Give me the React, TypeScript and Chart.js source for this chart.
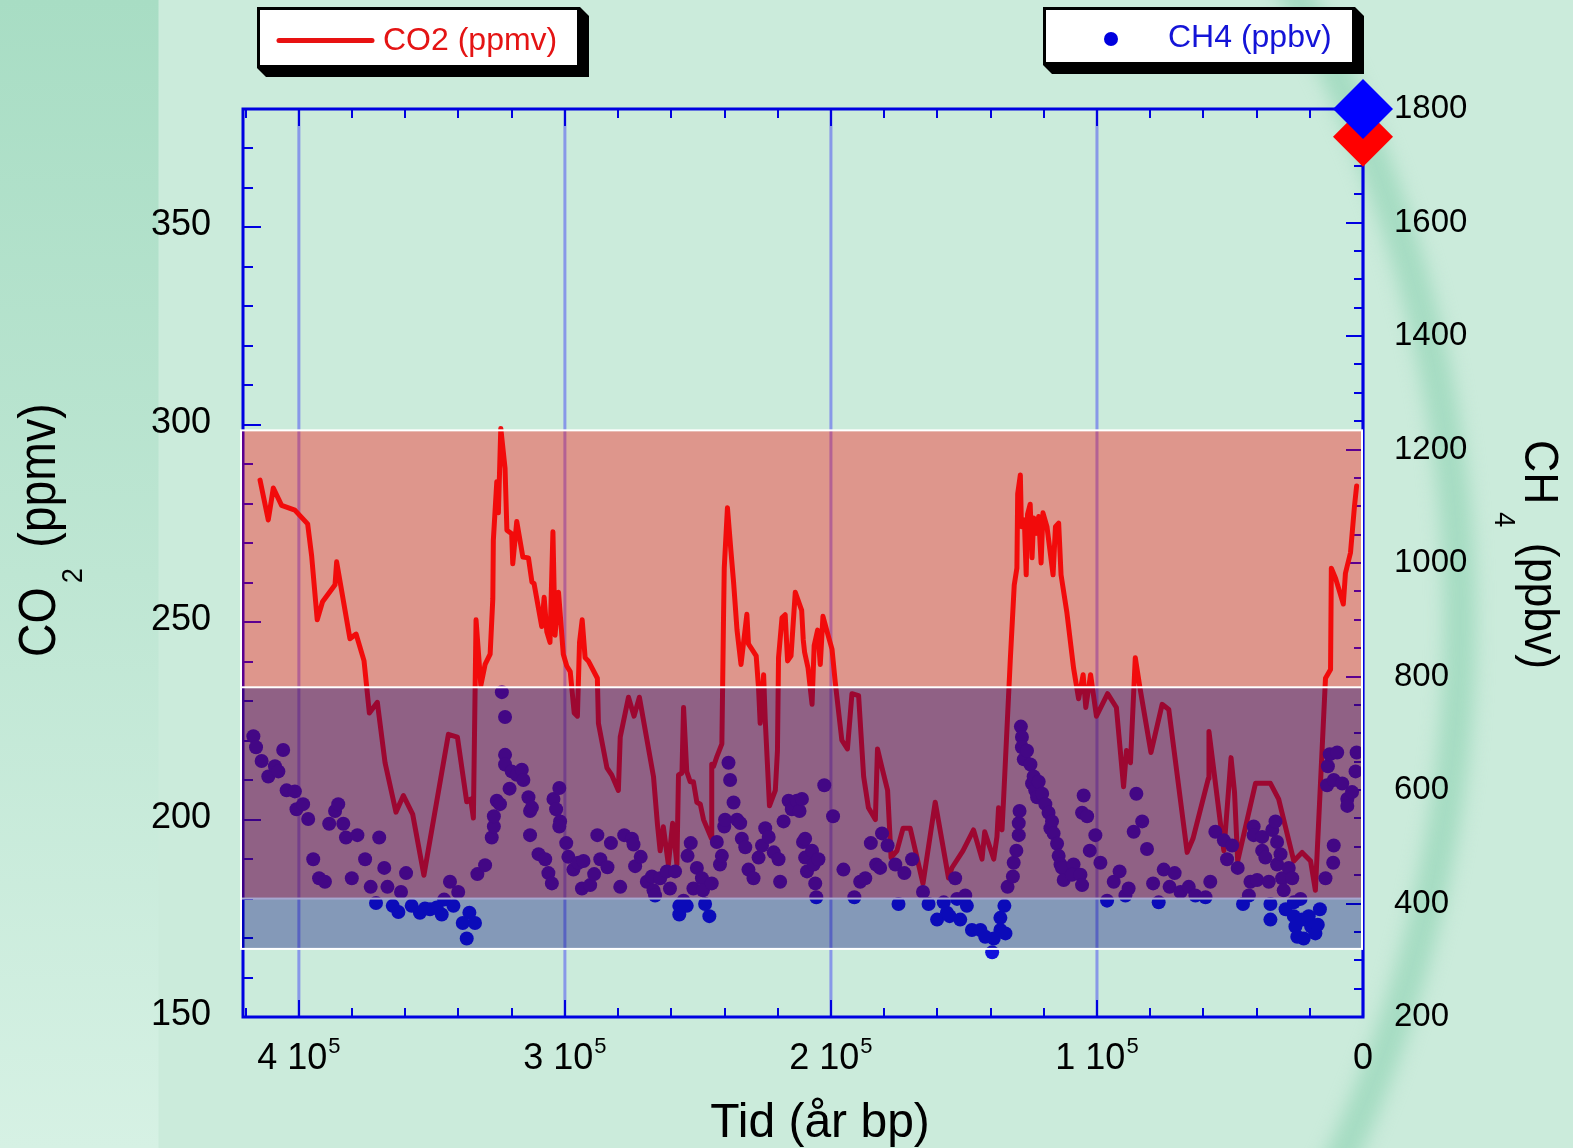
import React, { useEffect, useRef } from 'react';
import { Chart, registerables } from 'chart.js';

Chart.register(...registerables);

// ---------- data ----------
const co2Years = [
  414600, 411500, 409600, 406500, 401500, 399600, 396700, 395200, 393100, 391100,
  386400, 385800, 380800, 378500, 375500, 373500, 370500, 367600, 363500, 360700,
  357200, 353000, 343800, 340400, 336900, 335400, 334400, 333400, 331600, 330000,
  328100, 327100, 326900, 325600, 325000, 324100, 322500, 321800, 320000, 319600,
  318100, 315800, 313700, 312400, 311600, 308700, 307800, 306800, 305600, 304500,
  303700, 302400, 300600, 299300, 298000, 296500, 295300, 294500, 293500, 292400,
  291200, 287800, 287400, 284200, 282400, 279900, 279200, 276100, 274000, 272000,
  266700, 265200, 264200, 263000, 261100, 259500, 257900, 257300, 256000, 255400,
  254200, 252900, 251700, 250400, 249100, 247900, 244900, 244800, 244100, 242800,
  241000, 240400, 240100, 238900, 237600, 236600, 235300, 233800, 231600, 231000,
  228100, 227200, 226600, 225300, 224700, 223100, 220900, 220100, 219700, 218400,
  217200, 216300, 215000, 213400, 211000, 210400, 209900, 208600, 207100, 206300,
  205000, 204000, 203000, 200900, 199600, 198400, 195900, 193800, 192100, 189600,
  187700, 185900, 183300, 182500, 180800, 178700, 177400, 175200, 172900, 170200,
  165400, 160800, 155800, 154500, 150400, 146400, 143200, 142200, 138800, 137600,
  137000, 135700, 135100, 132600, 131100, 130100, 129800, 128800, 128400, 127300,
  126600, 126100, 125100, 124400, 123800, 122800, 121900, 121000, 120300, 118800,
  116500, 115600, 114400, 113500, 111300, 108800, 106900, 105200, 104200, 102400,
  100200, 96000, 92700, 90000, 88900, 87400, 85600, 83900, 79700, 75500,
  73000, 66100, 63900, 58100, 57900, 52300, 49600, 48300, 47100, 40400,
  34800, 31700, 26000, 22900, 19700, 17900, 14100, 12200, 11900, 10300,
  7400, 6600, 4700, 3200, 2400,
];
const co2Values = [
  286.0, 275.9, 284.0, 279.6, 278.4, 277.0, 274.9, 266.8, 250.6, 255.2,
  259.5, 265.3, 245.8, 247.0, 240.2, 227.0, 229.7, 214.4, 201.9, 206.1,
  201.3, 185.9, 221.6, 220.9, 204.5, 205.2, 200.4, 250.6, 234.0, 239.3,
  241.9, 255.9, 270.7, 285.6, 277.7, 299.1, 289.0, 273.3, 272.4, 264.8,
  275.5, 266.5, 266.3, 260.2, 259.8, 248.9, 256.3, 247.6, 244.9, 272.9,
  246.7, 257.6, 241.9, 238.9, 237.5, 227.0, 226.2, 244.9, 250.6, 241.0,
  240.2, 235.8, 224.4, 213.1, 211.3, 207.4, 220.9, 231.0, 226.2, 231.0,
  210.9, 198.7, 192.1, 198.2, 188.6, 199.1, 188.6, 211.3, 211.8, 228.4,
  212.2, 209.6, 209.6, 204.4, 203.9, 200.0, 195.2, 214.0, 213.5, 216.1,
  219.2, 249.8, 263.7, 279.0, 268.1, 260.2, 248.0, 239.3, 252.0, 244.5,
  241.5, 233.2, 224.4, 236.7, 225.3, 203.5, 207.4, 217.5, 241.0, 251.1,
  251.9, 240.2, 241.5, 257.6, 253.0, 245.5, 242.4, 238.4, 229.2, 244.1,
  248.0, 239.3, 251.5, 246.3, 243.2, 234.9, 220.1, 217.9, 231.9, 231.4,
  210.9, 203.0, 200.0, 217.9, 213.1, 207.4, 190.4, 192.1, 197.8, 197.8,
  183.8, 204.4, 185.2, 187.8, 192.1, 197.4, 190.0, 196.9, 190.0, 195.6,
  203.0, 197.4, 205.2, 240.2, 259.4, 263.7, 282.5, 287.3, 274.2, 275.9,
  262.0, 277.3, 279.9, 266.3, 276.4, 272.5, 276.8, 265.0, 277.7, 274.2,
  262.0, 274.2, 275.1, 262.0, 252.4, 238.4, 230.6, 236.7, 228.4, 236.7,
  226.2, 231.9, 228.4, 208.3, 217.5, 214.4, 241.0, 233.6, 217.0, 229.2,
  227.9, 191.7, 195.2, 210.5, 222.3, 192.1, 215.7, 207.0, 189.5, 209.2,
  209.2, 205.2, 189.5, 191.7, 189.5, 182.1, 235.8, 238.0, 263.7, 261.1,
  254.6, 262.4, 267.6, 279.4, 284.5,
];

const ch4Years = [
  417100, 416100, 414000, 411500, 409000, 407700, 405900, 404600, 401500, 400900,
  398400, 396500, 394600, 392400, 390200, 388600, 386400, 385200, 383300, 382300,
  380100, 378000, 375100, 373000, 371000, 369800, 367900, 366700, 364700, 362600,
  361600, 359700, 357600, 354500, 352600, 350700, 348200, 346300, 345400, 343200,
  341900, 340100, 338400, 336900, 335900, 333800, 332900, 330000, 327500, 326700,
  326700, 325600, 324400, 323700, 322500, 322500, 322500, 320800, 320000, 318100,
  316200, 315600, 313700, 313100, 313100, 312400, 309900, 307400, 306200, 304900,
  304300, 303300, 302100, 301800, 302100, 299500, 298700, 296800, 294900, 293000,
  293600, 290500, 289000, 287800, 286700, 284000, 282700, 279200, 277700, 274800,
  274200, 273600, 271500, 269200, 267300, 266700, 266100, 264200, 261700, 260500,
  258600, 257000, 257000, 255400, 254200, 253900, 252700, 251700, 250400, 248500,
  248100, 247300, 245700, 244800, 242900, 241700, 241000, 240100, 239800, 238500,
  237900, 236600, 235300, 234100, 233500, 232200, 231000, 229100, 227200, 225900,
  224700, 223400, 221500, 219700, 219100, 217800, 215900, 214700, 212800, 211800,
  210500, 209700, 209000, 210900, 209700, 207100, 206500, 204700, 205900, 205500,
  202500, 199200, 195300, 191200, 189000, 187100, 185000, 183000, 181500, 180800,
  178700, 175800, 174600, 172400, 169500, 165400, 163300, 160100, 157600, 156400,
  155400, 153300, 152600, 151400, 149500, 148900, 147000, 143800, 142000, 139400,
  138800, 136300, 136300, 134800, 134400, 133600, 131600, 131300, 130300, 129400,
  129400, 129100, 128600, 128200, 128200, 127500, 126300, 125000, 124400, 123800,
  123200, 122500, 121900, 120600, 119400, 118200, 117500, 116900, 116300, 115000,
  114400, 113700, 113100, 112500, 108800, 109400, 106200, 105600, 105000, 105600,
  102700, 103700, 100600, 98700, 96200, 93700, 91500, 89300, 88100, 85200,
  86200, 83000, 81200, 78900, 76800, 74900, 72700, 70800, 68600, 65500,
  63000, 59200, 57400, 55500, 52300, 49200, 51100, 47100, 45100, 42900,
  42300, 41100, 41100, 39800, 37900, 37900, 36700, 35400, 34800, 34800,
  34100, 32900, 32300, 32300, 31000, 30400, 29800, 29100, 27900, 26600,
  26000, 26000, 25400, 24700, 23500, 22900, 22300, 20400, 19500, 17900,
  17000, 16200, 14100, 13200, 12500, 9700, 11000, 11200, 13500, 11000,
  7800, 5900, 5900, 4100, 2800, 2400,
];
const ch4Values = [
  694.7, 675.3, 651.0, 623.7, 641.9, 632.8, 670.4, 599.4, 597.5, 566.0,
  575.1, 549.0, 477.9, 444.5, 438.4, 540.5, 562.9, 575.1, 540.5, 516.2,
  444.5, 520.4, 477.9, 429.3, 400.8, 516.2, 462.7, 429.3, 395.9, 385.0,
  420.2, 453.6, 395.9, 383.8, 391.1, 389.8, 392.9, 380.7, 406.9, 438.4,
  395.9, 420.2, 365.6, 338.2, 383.8, 365.6, 451.8, 467.6, 516.2, 535.6,
  553.8, 581.1, 575.1, 772.4, 728.7, 661.9, 644.9, 602.4, 632.8, 626.7,
  635.8, 617.6, 587.2, 562.9, 520.4, 569.0, 487.0, 477.9, 453.6, 435.4,
  584.2, 566.0, 603.6, 544.7, 535.6, 506.4, 482.2, 459.7, 471.8, 474.9,
  426.3, 432.4, 451.8, 520.4, 477.9, 463.9, 506.4, 429.3, 520.4, 514.3,
  504.0, 465.8, 482.2, 438.4, 447.5, 423.2, 414.1, 444.5, 456.6, 426.3,
  456.6, 395.9, 380.7, 405.0, 395.9, 484.0, 506.4, 426.3, 462.7, 444.5,
  423.2, 399.0, 377.7, 435.4, 508.3, 468.8, 484.0, 535.6, 547.7, 647.9,
  617.6, 578.1, 547.7, 541.7, 514.3, 499.2, 459.7, 444.5, 480.9, 502.2,
  532.6, 517.4, 490.1, 477.9, 438.4, 544.7, 581.1, 566.0, 581.1, 562.9,
  508.3, 480.9, 456.6, 584.2, 514.3, 493.1, 468.8, 477.9, 435.4, 411.1,
  608.5, 553.8, 459.7, 411.1, 438.4, 444.5, 506.4, 468.8, 462.7, 523.5,
  502.2, 468.8, 399.0, 453.6, 477.9, 420.2, 399.0, 371.6, 402.0, 383.8,
  377.7, 444.5, 408.1, 371.6, 414.1, 395.9, 353.4, 353.4, 341.3, 313.9,
  338.2, 374.7, 353.4, 395.9, 347.3, 429.3, 447.5, 471.8, 493.1, 520.4,
  541.7, 562.9, 711.7, 693.5, 675.3, 654.0, 669.2, 644.9, 611.5, 623.7,
  599.4, 587.2, 614.5, 593.3, 575.1, 559.9, 532.6, 544.7, 523.5, 505.2,
  484.0, 468.8, 462.7, 441.5, 468.8, 450.6, 450.6, 432.4, 590.3, 559.9,
  493.1, 553.8, 520.4, 471.8, 405.0, 438.4, 456.6, 414.1, 426.3, 593.3,
  526.5, 544.7, 496.1, 435.4, 402.0, 459.7, 429.3, 453.6, 420.2, 429.3,
  414.1, 411.1, 438.4, 526.5, 511.3, 502.2, 477.9, 462.7, 399.0, 414.1,
  438.4, 535.6, 520.4, 441.5, 517.4, 493.1, 480.9, 438.4, 399.0, 371.6,
  529.5, 544.7, 508.3, 468.8, 487.0, 444.5, 423.2, 389.8, 462.7, 444.5,
  402.0, 377.7, 359.5, 341.3, 408.1, 371.6, 338.2, 377.7, 359.5, 347.3,
  362.5, 389.8, 444.5, 641.9, 663.1, 666.2, 502.2, 471.8, 608.5, 617.6,
  611.5, 584.2, 572.0, 596.3, 632.8, 666.2,
];

const presentYear = [0];
const presentCO2 = [373];
const presentCH4 = [1800];

const co2Band = [180, 298.6];
const ch4Band = [320, 781];

const xMajorTicks = [0, 100000, 200000, 300000, 400000];
const xTickMantissas = ['0', '1', '2', '3', '4'];
const co2TickLabels = [150, 200, 250, 300, 350];
const ch4TickLabels = [200, 400, 600, 800, 1000, 1200, 1400, 1600, 1800];

// ---------- drawing helpers ----------
const W = 1573;
const H = 1148;
const FONT = "'Liberation Sans', Arial, Helvetica, sans-serif";
const AXIS_BLUE = 'rgb(0,0,225)';

function drawBackground(ctx: CanvasRenderingContext2D) {
  ctx.save();
  ctx.fillStyle = '#CBEBDB';
  ctx.fillRect(0, 0, W, H);
  const g = ctx.createLinearGradient(0, 0, 0, H);
  g.addColorStop(0, '#A8DDC4');
  g.addColorStop(0.5, '#BEE6D3');
  g.addColorStop(1, '#D6F1E4');
  ctx.fillStyle = g;
  ctx.fillRect(0, 0, 158.5, H);
  ctx.filter = 'blur(9px)';
  ctx.strokeStyle = 'rgba(150,214,184,0.7)';
  ctx.lineWidth = 32;
  ctx.beginPath();
  ctx.arc(185, 621, 1275, -0.62, 0.5);
  ctx.stroke();
  ctx.restore();
}

function drawLegendBox(ctx: CanvasRenderingContext2D, l: number, t: number, r: number, b: number, sh: number) {
  ctx.save();
  ctx.fillStyle = '#000';
  ctx.beginPath();
  ctx.moveTo(r, t);
  ctx.lineTo(r + sh, t + sh);
  ctx.lineTo(r + sh, b + sh);
  ctx.lineTo(l + sh, b + sh);
  ctx.lineTo(l, b);
  ctx.closePath();
  ctx.fill();
  ctx.fillStyle = '#fff';
  ctx.fillRect(l, t, r - l, b - t);
  ctx.strokeStyle = '#000';
  ctx.lineWidth = 3;
  ctx.strokeRect(l + 1.5, t + 1.5, r - l - 3, b - t - 3);
  ctx.restore();
}

const decorPlugin = {
  id: 'decor',
  beforeDraw(chart: any) {
    drawBackground(chart.ctx);
  },
  beforeDatasetsDraw(chart: any) {
    const ctx: CanvasRenderingContext2D = chart.ctx;
    const { left, right, top, bottom } = chart.chartArea;
    const xs = chart.scales.x;
    const yl = chart.scales.yL;
    const yr = chart.scales.yR;
    ctx.save();
    // vertical grid lines
    ctx.strokeStyle = 'rgba(70,70,245,0.5)';
    ctx.lineWidth = 3;
    for (const v of xMajorTicks) {
      const x = xs.getPixelForValue(v);
      ctx.beginPath();
      ctx.moveTo(x, top);
      ctx.lineTo(x, bottom);
      ctx.stroke();
    }
    // ticks
    ctx.strokeStyle = AXIS_BLUE;
    ctx.lineWidth = 2;
    for (let v = 0; v <= 420000; v += 20000) {
      const x = Math.round(xs.getPixelForValue(v));
      const len = v % 100000 === 0 ? 17 : 9;
      ctx.beginPath();
      ctx.moveTo(x, bottom);
      ctx.lineTo(x, bottom - len);
      ctx.moveTo(x, top);
      ctx.lineTo(x, top + len);
      ctx.stroke();
    }
    for (let v = 150; v <= 380; v += 10) {
      const y = Math.round(yl.getPixelForValue(v));
      const len = v % 50 === 0 ? 18 : 10;
      ctx.beginPath();
      ctx.moveTo(left, y);
      ctx.lineTo(left + len, y);
      ctx.stroke();
    }
    for (let v = 200; v <= 1800; v += 50) {
      const y = Math.round(yr.getPixelForValue(v));
      const len = v % 200 === 0 ? 17 : 9;
      ctx.beginPath();
      ctx.moveTo(right, y);
      ctx.lineTo(right - len, y);
      ctx.stroke();
    }
    // frame
    ctx.lineWidth = 3;
    ctx.strokeRect(left, top, right - left, bottom - top);
    ctx.restore();
  },
  afterDatasetsDraw(chart: any) {
    const ctx: CanvasRenderingContext2D = chart.ctx;
    const { left, right } = chart.chartArea;
    const yl = chart.scales.yL;
    const yr = chart.scales.yR;
    ctx.save();
    const rTop = yl.getPixelForValue(co2Band[1]);
    const rBot = yl.getPixelForValue(co2Band[0]);
    ctx.fillStyle = 'rgba(255,0,0,0.36)';
    ctx.fillRect(left - 2, rTop, right - left + 1, rBot - rTop);
    ctx.strokeStyle = '#ffffff';
    ctx.lineWidth = 2;
    ctx.strokeRect(left - 2, rTop, right - left + 1, rBot - rTop);
    const bTop = yr.getPixelForValue(ch4Band[1]);
    const bBot = yr.getPixelForValue(ch4Band[0]);
    ctx.fillStyle = 'rgba(0,0,120,0.35)';
    ctx.fillRect(left - 2, bTop, right - left + 1, bBot - bTop);
    ctx.strokeRect(left - 2, bTop, right - left + 1, bBot - bTop);
    ctx.restore();
  },
  afterDraw(chart: any) {
    const ctx: CanvasRenderingContext2D = chart.ctx;
    const xs = chart.scales.x;
    const yl = chart.scales.yL;
    const yr = chart.scales.yR;
    ctx.save();
    ctx.fillStyle = '#000';
    // left tick labels
    ctx.font = `36px ${FONT}`;
    ctx.textAlign = 'right';
    ctx.textBaseline = 'middle';
    for (const v of co2TickLabels) {
      ctx.fillText(String(v), 211, yl.getPixelForValue(v) - 2);
    }
    // right tick labels
    ctx.font = `33px ${FONT}`;
    ctx.textAlign = 'left';
    for (const v of ch4TickLabels) {
      ctx.fillText(String(v), 1394, yr.getPixelForValue(v));
    }
    // bottom tick labels with superscript
    ctx.textBaseline = 'alphabetic';
    xMajorTicks.forEach((v, i) => {
      const x = xs.getPixelForValue(v);
      if (v === 0) {
        ctx.font = `36px ${FONT}`;
        ctx.textAlign = 'center';
        ctx.fillText('0', x, 1069);
        return;
      }
      ctx.textAlign = 'left';
      const main = `${xTickMantissas[i]} 10`;
      ctx.font = `36px ${FONT}`;
      const w1 = ctx.measureText(main).width;
      ctx.font = `22px ${FONT}`;
      const w2 = ctx.measureText('5').width;
      const start = x - (w1 + w2 + 1) / 2;
      ctx.font = `36px ${FONT}`;
      ctx.fillText(main, start, 1069);
      ctx.font = `22px ${FONT}`;
      ctx.fillText('5', start + w1 + 1, 1053);
    });
    // x title
    ctx.font = `48px ${FONT}`;
    ctx.textAlign = 'center';
    ctx.fillText('Tid (år bp)', 820, 1137);

    // left title, rotated
    ctx.save();
    ctx.translate(55, 657);
    ctx.rotate(-Math.PI / 2);
    ctx.scale(0.91, 1);
    ctx.textAlign = 'left';
    ctx.font = `51px ${FONT}`;
    ctx.fillText('CO', 0, 0);
    ctx.font = `30px ${FONT}`;
    ctx.fillText('2', 81, 27);
    ctx.font = `51px ${FONT}`;
    ctx.fillText('(ppmv)', 120, 0);
    ctx.restore();

    // right title, rotated
    ctx.save();
    ctx.translate(1525, 440);
    ctx.rotate(Math.PI / 2);
    ctx.scale(0.91, 1);
    ctx.textAlign = 'left';
    ctx.font = `49px ${FONT}`;
    ctx.fillText('CH', 0, 0);
    ctx.font = `30px ${FONT}`;
    ctx.fillText('4', 79, 30);
    ctx.font = `49px ${FONT}`;
    ctx.fillText('(ppbv)', 113, 0);
    ctx.restore();

    // legends
    drawLegendBox(ctx, 257, 7, 580, 68, 9);
    ctx.strokeStyle = 'rgb(232,18,18)';
    ctx.lineWidth = 5;
    ctx.lineCap = 'round';
    ctx.beginPath();
    ctx.moveTo(279, 40.5);
    ctx.lineTo(372, 40.5);
    ctx.stroke();
    ctx.fillStyle = 'rgb(228,20,20)';
    ctx.font = `32px ${FONT}`;
    ctx.textAlign = 'left';
    ctx.fillText('CO2 (ppmv)', 383, 50);

    drawLegendBox(ctx, 1043, 7, 1355, 65, 9);
    ctx.fillStyle = 'rgb(0,0,222)';
    ctx.beginPath();
    ctx.arc(1111, 39, 7, 0, Math.PI * 2);
    ctx.fill();
    ctx.fillStyle = 'rgb(20,20,215)';
    ctx.fillText('CH4 (ppbv)', 1168, 47);
    ctx.restore();
  },
};

export default function App() {
  const canvasRef = useRef<HTMLCanvasElement | null>(null);

  useEffect(() => {
    document.body.style.margin = '0';
    const canvas = canvasRef.current;
    if (!canvas) return;
    const chart = new Chart(canvas, {
      type: 'scatter',
      data: {
        datasets: [
          {
            label: 'CH4 today',
            data: presentYear.map((x, i) => ({ x, y: presentCH4[i] })),
            yAxisID: 'yR',
            pointStyle: 'rectRot',
            pointRadius: 30,
            backgroundColor: 'rgb(0,0,255)',
            borderWidth: 0,
            order: 0,
            clip: false,
          },
          {
            label: 'CO2 today',
            data: presentYear.map((x, i) => ({ x, y: presentCO2[i] })),
            yAxisID: 'yL',
            pointStyle: 'rectRot',
            pointRadius: 30,
            backgroundColor: 'rgb(255,0,0)',
            borderWidth: 0,
            order: 1,
            clip: false,
          },
          {
            label: 'CH4 (ppbv)',
            data: ch4Years.map((x, i) => ({ x, y: ch4Values[i] })),
            yAxisID: 'yR',
            pointRadius: 7,
            backgroundColor: 'rgb(18,18,220)',
            borderWidth: 0,
            order: 2,
          },
          {
            type: 'line',
            label: 'CO2 (ppmv)',
            data: co2Years.map((x, i) => ({ x, y: co2Values[i] })),
            yAxisID: 'yL',
            borderColor: 'rgb(235,18,18)',
            borderWidth: 5,
            borderJoinStyle: 'round',
            borderCapStyle: 'round',
            pointRadius: 0,
            fill: false,
            tension: 0,
            showLine: true,
            order: 3,
          } as any,
        ],
      },
      options: {
        responsive: false,
        animation: false,
        devicePixelRatio: 1,
        events: [],
        layout: { padding: { left: 243, right: 210, top: 109, bottom: 131 } },
        plugins: { legend: { display: false }, tooltip: { enabled: false } },
        scales: {
          x: { type: 'linear', reverse: true, min: 0, max: 421000, display: false },
          yL: { type: 'linear', position: 'left', min: 150, max: 380, display: false },
          yR: { type: 'linear', position: 'right', min: 200, max: 1800, display: false },
        },
      },
      plugins: [decorPlugin],
    } as any);
    return () => chart.destroy();
  }, []);

  return (
    <div style={{ position: 'absolute', left: 0, top: 0, width: W, height: H }}>
      <canvas ref={canvasRef} width={W} height={H} style={{ display: 'block', width: W, height: H }} />
    </div>
  );
}
